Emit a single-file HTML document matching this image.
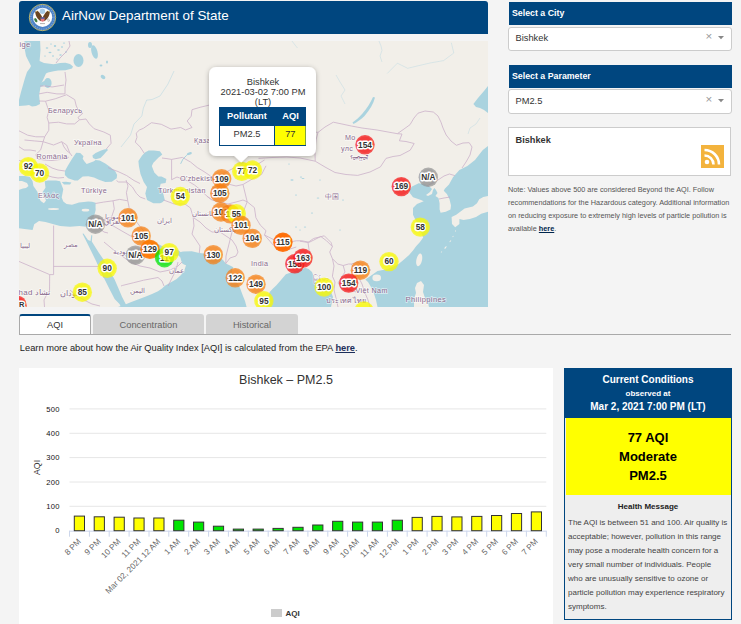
<!DOCTYPE html>
<html><head><meta charset="utf-8">
<style>
*{box-sizing:border-box}
html,body{margin:0;padding:0}
body{width:741px;height:624px;background:#f4f4f4;position:relative;overflow:hidden;font-family:"Liberation Sans",sans-serif;color:#333}
.a{position:absolute}
.hd{background:#00467f}
.sel{background:#fff;border:1px solid #ccc;border-radius:3px}
.t{position:absolute;white-space:nowrap;line-height:1}
svg text{font-family:"Liberation Sans",sans-serif}
.mk{font-size:8.3px;font-weight:bold;fill:#333;stroke:#fff;stroke-width:2.8px;stroke-linejoin:round;paint-order:stroke}
.lb{fill:#8a6a8e;stroke:#fff;stroke-opacity:.6;stroke-width:1.4px;paint-order:stroke;letter-spacing:.35px}
.pp{font-size:9.3px;fill:#333}
.ph{font-size:9.3px;font-weight:bold;fill:#fff}
.yl{font-size:7.6px;fill:#111;letter-spacing:.3px}
.xl{font-size:8.2px;fill:#666}
.ct{font-size:12.5px;fill:#333}
.yt{font-size:8.8px;fill:#333}
.lg{font-size:8px;font-weight:bold;fill:#333}
</style></head><body>

<!-- header -->
<div class="a" style="left:19px;top:1px;width:469px;height:33px;background:#00467f;border-radius:3px 3px 0 0"></div>
<svg class="a" style="left:28px;top:3px" width="29" height="29" viewBox="28 3 29 29">
  <circle cx="42.5" cy="17.5" r="13.2" fill="#4c82c6" stroke="#c8bb62" stroke-width="0.9"/>
  <circle cx="42.5" cy="17.5" r="11.6" fill="none" stroke="#7aa6dc" stroke-width="1.2" stroke-dasharray="1 1.3"/>
  <circle cx="42.6" cy="17.3" r="9.6" fill="#fdfdfd"/>
  <circle cx="42.4" cy="11.3" r="2.7" fill="#a8cbe6"/>
  <path d="M35.2,11.5 C35.3,15.5 37.5,19.5 40.9,21.3 L42.3,17.5 C41.5,15.5 39.5,12.5 37.8,11Z" fill="#6a4521"/>
  <path d="M49.8,11.5 C49.7,15.5 47.5,19.5 44.1,21.3 L42.7,17.5 C43.5,15.5 45.5,12.5 47.2,11Z" fill="#6a4521"/>
  <path d="M36.2,11.6 L37.3,10.7 M48.9,11.6 L47.8,10.7" stroke="#d8c660" stroke-width="0.9"/>
  <path d="M40.7,17.5 H44.5 V20.6 Q42.6,23 40.7,20.6Z" fill="#e3767e"/>
  <rect x="40.7" y="17.3" width="3.8" height="1.4" fill="#3a5aa5"/>
  <ellipse cx="35.8" cy="20.2" rx="1.3" ry="2.3" fill="#3d7d40" transform="rotate(-30 35.8 20.2)"/>
  <path d="M48.5,18.5 L50,21.5 M47.5,19 L48.5,22" stroke="#a0a0a0" stroke-width="0.7"/>
  <path d="M40,23.6 L45,23.6" stroke="#b0b0b0" stroke-width="1"/>
</svg>
<div class="t" style="left:62px;top:9px;font-size:13.4px;color:#fff">AirNow Department of State</div>

<!-- map -->
<svg class="a" style="left:19px;top:41px" width="469" height="266" viewBox="19 41 469 266">
<rect x="19" y="41" width="469" height="266" fill="#f2efe9"/>
<polygon points="24.5,41 40.1,41 40.5,50 39.6,61 44,63 53.6,64.3 60,63 65.5,62.7 70,64 73,66.5 72,68.5 65.5,70.2 58,70.5 53.6,71.3 48,72.5 46,73.5 43,80 41,84 40,90 39.1,95 39.6,100 40,104 36,106 32,106.5 29,105 26,105.5 19,106 19,100 21,92 23,85 25,78 27,72 30,68 31,66 29,62 26,56 24.5,48" fill="#aad3df" />
<ellipse cx="47.8" cy="83" rx="3.8" ry="5" fill="#aad3df"/>
<polygon points="39.5,84 43,81.5 46,80.5 46.5,84 42,86.5 39.5,87" fill="#aad3df" />
<ellipse cx="47" cy="48" rx="1.3" ry="0.8" fill="#aad3df"/>
<ellipse cx="50" cy="52.5" rx="1.5" ry="0.7" fill="#aad3df"/>
<ellipse cx="55" cy="46" rx="1.2" ry="0.9" fill="#aad3df"/>
<ellipse cx="58.5" cy="50" rx="1.4" ry="0.8" fill="#aad3df"/>
<ellipse cx="62" cy="47" rx="1.1" ry="0.7" fill="#aad3df"/>
<ellipse cx="53" cy="56" rx="1" ry="0.7" fill="#aad3df"/>
<ellipse cx="60.5" cy="55" rx="1.3" ry="0.7" fill="#aad3df"/>
<ellipse cx="66" cy="52" rx="1" ry="0.8" fill="#aad3df"/>
<ellipse cx="51" cy="44" rx="1" ry="0.6" fill="#aad3df"/>
<ellipse cx="64" cy="43" rx="1.2" ry="0.6" fill="#aad3df"/>
<ellipse cx="45" cy="56" rx="0.9" ry="0.6" fill="#aad3df"/>
<ellipse cx="57" cy="59" rx="1" ry="0.6" fill="#aad3df"/>
<ellipse cx="78.5" cy="60.5" rx="5" ry="6.5" fill="#aad3df"/>
<ellipse cx="94.5" cy="52" rx="3" ry="7" fill="#aad3df" transform="rotate(-15 94.5 52)"/>
<ellipse cx="90" cy="45" rx="2" ry="3" fill="#aad3df"/>
<polygon points="76.2,152.7 80.2,153.1 83.5,156.3 82.7,158.8 84.5,161.5 86.7,164 90,162.8 94,161.2 95.6,160 99.7,160.4 105.3,163.6 110.2,166.9 115.1,170.9 117.1,175 116.7,178.2 111.8,181.8 105.3,182 98.9,179.8 94,177.4 88.3,176.2 82.7,176.6 77.8,180.6 74.6,180.6 68.1,178.2 64.9,175 64.9,170.9 68.1,165.2 72.1,158.8" fill="#aad3df" />
<polygon points="92.4,155.5 95.6,153.1 100.5,150.7 104,149.6 107,149 108,150 106,152 103.7,154.7 100.5,158 95.6,159.2 93,158" fill="#aad3df" />
<polygon points="142.1,155.4 145,152.5 148.6,150.5 154,150.6 159.9,151.3 162.3,154.6 158.3,157.8 153.4,162.7 151.8,165.9 154.3,172.4 158.3,176.4 161.5,176.4 166.4,178.9 165.6,182.9 160.7,183.7 159.9,187 163.2,193.4 164.8,199.9 162,202.5 159.9,203.2 153.4,203.2 147,199.9 145.3,193.4 147,187 143.7,182.1 140.5,174 138.9,165.9 138.4,161" fill="#aad3df" />
<ellipse cx="189.3" cy="153.6" rx="2.7" ry="1.3" fill="#aad3df" transform="rotate(-20 189.3 153.6)"/>
<polygon points="19,176 25,176 30,177 32.6,181.2 33.4,186 37.4,191.7 39,197.4 40.7,201 43.9,203.2 46,200.5 44.7,197.4 42.3,192.5 45.5,187.7 44.7,181.2 48,180.4 52,180.4 56,180.5 60.1,181.2 63.3,189.3 61.7,197.4 63.3,201.6 66.6,204 72,204.8 76,203.5 79,202.5 84,202 88,201.6 92,201.8 95.7,202.7 95.5,207 95.7,209.7 94.1,216.2 91.5,220 89.3,222.7 86,226.7 79.5,225.9 69.8,226.7 60.1,225.9 53.6,224.3 45.5,221.9 39,221 34.2,224.3 32.6,230 24.5,229.1 19,228.3" fill="#aad3df" />
<polygon points="19,181 22,181 27,183 28.5,186 26,188 23,188.5 20,189.5 19,190" fill="#f2efe9" />
<polygon points="61.7,182 66,181.8 71.4,182.5 70,184.4 64,184.4" fill="#aad3df" />
<ellipse cx="85.5" cy="210.2" rx="3.8" ry="1.4" fill="#f2efe9"/>
<ellipse cx="53.5" cy="209" rx="5.5" ry="1.1" fill="#f2efe9"/>
<polygon points="82.5,233.7 83.5,233.5 88,240 90.5,241 91.3,235 92.3,235.5 91.8,241.5 98.5,252.2 103.5,259.6 109.6,270.7 114.6,279.4 118.3,288 122,296.7 125.7,304 127,307 121,307 119.5,304 114.6,299.1 109.6,289.3 104.7,279.4 99.8,269.5 96,260.9 91.1,251 86.8,242.3" fill="#aad3df" />
<polygon points="147,241.5 152,240.5 158,244 165,247.5 172,249 178,250 181,252.5 178,256 172,256.5 166,255 160,254 154,250 149,245" fill="#aad3df" />
<polygon points="176.7,253 183,251.5 191.8,251.2 199.3,253 208.8,254 215,255.5 220.1,257.8 223,260 225.8,263.5 229,265 233.4,267.2 232,270 231.5,274.8 234,278 237.1,282.3 240,288 242.8,295.6 245,301 246.6,307 118,307 121,306 124,305 131.3,302 138,299.5 146.5,296.3 152,294 158,291.2 162,288.5 165.3,285.5 171,282.3 176.7,279 181,275 184.2,271 186,265.3 184,264.5 182.3,263.5 181,260 180.5,257.8" fill="#aad3df" />
<polygon points="266,307 267,300 269.7,292 273,288.5 276.2,285.6 281,280 285.9,274.3 291,272.5 297.2,271 302,269 305.3,267.8 308.6,269 312,272 313.5,276.3 316,283 320,288 326,290 331,292 333,297 332,302 331,307" fill="#aad3df" />
<polygon points="408.9,190.5 412,186.5 418.7,183.3 424,184 429,186 432,189 430,192 426,195 428,196 432,194 433,190 434.4,188 436,190 437.5,193 435.4,196 438.5,198.1 439.6,203.3 439.6,209.6 440.6,212.7 445.8,211.7 450.5,209.6 451,205.4 449.5,199.2 446.9,194 443.75,190.8 444.8,188.75 449,184.6 453,177.3 459.4,170 467.4,166 475,160 482.8,150 488,146 488,196 483.3,197 479.2,199.2 477,203.3 472.9,206.5 464.6,208.5 456.25,214.8 451.6,217 452,224 455.2,227.3 459.4,224 459.4,219 463.5,220 469.8,219 476,216.9 481.25,213.75 488,211.7 488,307 377.5,307 376,300 374,293.7 371,287 368,282 365.3,279.6 370.5,276.1 377.5,270.9 388,269.1 398.6,263.9 404,259.5 409.1,255 413,250.5 416.1,246.3 420,242 423.2,237.5 421,232 419.7,225.6 415.6,220.2 413,214.8 413,208 417,204 423.7,201.3 421,200 413,197.2 408.9,191.8" fill="#aad3df" />
<ellipse cx="376.7" cy="277.9" rx="4.3" ry="3.3" fill="#f2efe9"/>
<ellipse cx="419.2" cy="259.9" rx="2.8" ry="6.5" fill="#f2efe9" transform="rotate(12 419.2 259.9)"/>
<polygon points="417,283 421,281 424,285 423,292 425,298 428,303 429,307 414,307 414,299 416,293 415,288" fill="#f2efe9" />
<ellipse cx="445.5" cy="247.5" rx="1.6" ry="0.6" fill="#f2efe9" transform="rotate(-50 445.5 247.5)"/>
<ellipse cx="450.3" cy="241.2" rx="1.2" ry="0.5" fill="#f2efe9" transform="rotate(-50 450.3 241.2)"/>
<ellipse cx="453" cy="236.5" rx="0.8" ry="0.4" fill="#f2efe9" transform="rotate(-50 453 236.5)"/>
<ellipse cx="441.5" cy="252" rx="0.8" ry="0.4" fill="#f2efe9" transform="rotate(-40 441.5 252)"/>
<ellipse cx="455.5" cy="231" rx="0.7" ry="0.4" fill="#f2efe9" transform="rotate(-60 455.5 231)"/>
<polygon points="473.4,104 478,98 484,91 488,86 488,113 484,110 480,108 476,107" fill="#aad3df" />
<path d="M174,71 L168,84 L160,96 L152,99.5 L148,100 L146.7,100" fill="none" stroke="#aad3df" stroke-width="0.9" stroke-opacity="0.5"/>
<ellipse cx="103" cy="77" rx="2.6" ry="1.8" fill="#aad3df" transform="rotate(35 103 77)"/>
<ellipse cx="101" cy="65.5" rx="1.4" ry="1" fill="#aad3df"/>
<ellipse cx="107" cy="62" rx="1" ry="1.5" fill="#aad3df"/>
<ellipse cx="292" cy="180" rx="1.6" ry="0.7" fill="#aad3df"/>
<ellipse cx="301" cy="177" rx="1.2" ry="0.6" fill="#aad3df"/>
<ellipse cx="303" cy="178.5" rx="1.5" ry="0.6" fill="#aad3df"/>
<ellipse cx="318" cy="198" rx="1.3" ry="0.6" fill="#aad3df"/>
<ellipse cx="296" cy="195" rx="1" ry="0.6" fill="#aad3df"/>
<ellipse cx="312" cy="213" rx="1.1" ry="0.6" fill="#aad3df"/>
<ellipse cx="305" cy="227" rx="1.2" ry="0.6" fill="#aad3df"/>
<ellipse cx="296" cy="227" rx="1" ry="0.5" fill="#aad3df"/>
<ellipse cx="300" cy="230" rx="0.8" ry="0.5" fill="#aad3df"/>
<ellipse cx="343" cy="200" rx="1" ry="0.6" fill="#aad3df"/>
<ellipse cx="320" cy="180" rx="0.8" ry="0.5" fill="#aad3df"/>
<ellipse cx="289" cy="164" rx="0.8" ry="0.5" fill="#aad3df"/>
<ellipse cx="340" cy="230" rx="0.8" ry="0.5" fill="#aad3df"/>
<polyline points="451.3,42.7 453.8,53 443.6,60.6 430,63 418,65.8 407.7,68.3 397.4,63.2 387.2,73.5" fill="none" stroke="#aad3df" stroke-width="0.8" stroke-opacity="0.45"/>
<polyline points="379,41 381,46 382,50.4 380,56 382,62" fill="none" stroke="#aad3df" stroke-width="0.8" stroke-opacity="0.45"/>
<polyline points="336,75 340,82 345,90 341,96 345,104" fill="none" stroke="#aad3df" stroke-width="0.8" stroke-opacity="0.45"/>
<polyline points="292,41 295,45 297.5,48" fill="none" stroke="#aad3df" stroke-width="0.8" stroke-opacity="0.45"/>
<polyline points="480,118 476,124 470,128 468,134" fill="none" stroke="#aad3df" stroke-width="0.8" stroke-opacity="0.45"/>
<polyline points="146.7,100 143.4,108 141.8,116 134,124 130.5,135 121,147" fill="none" stroke="#aad3df" stroke-width="0.9" stroke-opacity="0.5"/>
<path d="M375,97.5 C373.5,104 369.5,110 364.5,116 C361,119.5 357,122 353.5,124 L352.5,122.5 C356,120 359.5,117 362.5,113.5 C367,108 370.5,103 373,97Z" fill="#aad3df"/>
<path d="M186.5,155.5 L183,159 L180.8,163.5" fill="none" stroke="#aad3df" stroke-width="1" stroke-linecap="round"/>
<g opacity="0.75"><polyline points="318,132.4 325,127 333.3,122.2 342,124 351.3,126 362,128 377,130 388,132 397.4,133.7 404,129 410,124.7 414,118 418,113.2 425,111 433.3,112 438,116 441,122.2 443,128 446.2,135 451,141 456.4,145.3 463,143 469.2,142.7 472,147 470,155 466,162 462,168" fill="none" stroke="#c4a6c4" stroke-width="0.9" stroke-linejoin="round" /><polyline points="315.2,161.2 300,158 286.9,157 272,157.5 258.5,158.4" fill="none" stroke="#c4a6c4" stroke-width="0.9" stroke-linejoin="round" /><polyline points="318,132.4 316,140 315,150 315.2,161.2 325,167 335,172.5 346,174.5 357.7,175.4 370,172 380.4,166.9 386,158.4 393,156.5 400,155.5 410.2,150.2 414.2,143.5 406,141.5 399.4,140.8 402,134 397.4,133.7" fill="none" stroke="#c4a6c4" stroke-width="0.9" stroke-linejoin="round" /><polyline points="426.4,186.4 432,183 438,180 444,176 449.4,174 454.8,175.6" fill="none" stroke="#c4a6c4" stroke-width="0.9" stroke-linejoin="round" /><polyline points="439,199 444,198 450,197" fill="none" stroke="#c4a6c4" stroke-width="0.9" stroke-linejoin="round" /><polyline points="144.3,153.4 140.2,147 135.3,142.1 137,137.2 136.2,133.2 139.4,130 143.4,128.3 151.5,122.7 161.3,124.3 171,129.1 180.7,127.5 185.5,130 192,127.5 187.2,121 191.2,116.2 192,109.7 200.1,107.3 210,104.9" fill="none" stroke="#c4a6c4" stroke-width="0.9" stroke-linejoin="round" /><polyline points="300,121 307,126 315,132 318,132.4" fill="none" stroke="#c4a6c4" stroke-width="0.9" stroke-linejoin="round" /><polyline points="162,158 166,158.5 171.6,159.4 182.4,157.4 190.5,162 197.2,167.5 204,171.6 212,177 218,176 226,172 234,168 242,166 250,166 258,164 264.5,160" fill="none" stroke="#c4a6c4" stroke-width="0.9" stroke-linejoin="round" /><polyline points="171.6,159.4 171.6,179.7 177,177 187.8,181 194.5,185 201.3,190.5 206.7,196 212,200" fill="none" stroke="#c4a6c4" stroke-width="0.9" stroke-linejoin="round" /><polyline points="266,165.8 261.6,174.4 254,178 243,184.5 236,186 228,184 220,186 212,188" fill="none" stroke="#c4a6c4" stroke-width="0.9" stroke-linejoin="round" /><polyline points="243,184.5 247.2,201.8 254.4,207.6 255.9,217.7 260.2,225 266,230.7 264.5,235 276,240.8 287.6,242.3 296.3,240.8 302,240.8 309.3,242.3 320.8,236.5 326.6,240.8 332.4,246.6" fill="none" stroke="#c4a6c4" stroke-width="0.9" stroke-linejoin="round" /><polyline points="264.5,235 273.2,245 281.8,248 290,249 296.3,247" fill="none" stroke="#c4a6c4" stroke-width="0.9" stroke-linejoin="round" /><polyline points="163.5,200 174.3,204 185,204 190.5,208 193.2,217.5 194,226 192,234 196,240 200,246 199.3,253" fill="none" stroke="#c4a6c4" stroke-width="0.9" stroke-linejoin="round" /><polyline points="206.7,196 212,200 220,202 228,204 236,202 243,200 247.2,201.8" fill="none" stroke="#c4a6c4" stroke-width="0.9" stroke-linejoin="round" /><polyline points="193.2,217.5 200,222 206,228 212,232 220,232 226,236 232,240 236,246 238,252 236,256 230,258 225.8,263.5" fill="none" stroke="#c4a6c4" stroke-width="0.9" stroke-linejoin="round" /><polyline points="247.2,201.8 244,210 240,218 236,224 232,232 230,240 228,248 226,256 225.8,263.5" fill="none" stroke="#c4a6c4" stroke-width="0.9" stroke-linejoin="round" /><polyline points="108,167.5 111,169 118,171.5 126.7,175.6 134,180.5 140,183.5" fill="none" stroke="#c4a6c4" stroke-width="0.9" stroke-linejoin="round" /><polyline points="116.5,180.6 118.6,182 126.7,182 132.4,187 136.4,193.4 140,197 145.3,199" fill="none" stroke="#c4a6c4" stroke-width="0.9" stroke-linejoin="round" /><polyline points="95.4,203.5 103.5,202.1 113,200.8 119.7,199.4 127.8,200.8 126.4,192.7 128,186 126,180" fill="none" stroke="#c4a6c4" stroke-width="0.9" stroke-linejoin="round" /><polyline points="113,200.8 114.3,208.9 111.6,217 103.5,219.7 98,218" fill="none" stroke="#c4a6c4" stroke-width="0.9" stroke-linejoin="round" /><polyline points="127.8,200.8 129.1,207.5 134.5,213 135.9,221 140,226.4 146.7,234.5 150,238" fill="none" stroke="#c4a6c4" stroke-width="0.9" stroke-linejoin="round" /><polyline points="103.5,219.7 111.6,225 121,230.5 130.5,235.9 137,237 144,239" fill="none" stroke="#c4a6c4" stroke-width="0.9" stroke-linejoin="round" /><polyline points="96,224 100,229 104,232 108,233" fill="none" stroke="#c4a6c4" stroke-width="0.9" stroke-linejoin="round" /><polyline points="104,242 110,247 116,252 122,256 130,262 140,266 150,268 160,272 170,270 178,266 182,262" fill="none" stroke="#c4a6c4" stroke-width="0.9" stroke-linejoin="round" /><polyline points="121,286 122.7,285.4 133.2,282.8 143.7,280.2 158,277.5 162,281 164,286" fill="none" stroke="#c4a6c4" stroke-width="0.9" stroke-linejoin="round" /><polyline points="168,286 172,278 176,270 178,262" fill="none" stroke="#c4a6c4" stroke-width="0.9" stroke-linejoin="round" /><polyline points="53.6,225.6 53.6,266 53.6,274.6" fill="none" stroke="#c4a6c4" stroke-width="0.9" stroke-linejoin="round" /><polyline points="53.6,266.4 98,266.4" fill="none" stroke="#c4a6c4" stroke-width="0.9" stroke-linejoin="round" /><polyline points="18,261 49.7,274.6 53.6,274.6" fill="none" stroke="#c4a6c4" stroke-width="0.9" stroke-linejoin="round" /><polyline points="49.7,274.6 49.5,292 46,296 44,300 44.5,307" fill="none" stroke="#c4a6c4" stroke-width="0.9" stroke-linejoin="round" /><polyline points="98.8,266 102,272 104,278" fill="none" stroke="#c4a6c4" stroke-width="0.9" stroke-linejoin="round" /><polyline points="70,290 76,295 84,300 92,304 100,306" fill="none" stroke="#c4a6c4" stroke-width="0.9" stroke-linejoin="round" /><polyline points="69,41 70,46 66,52 60,58 56,63" fill="none" stroke="#c4a6c4" stroke-width="0.9" stroke-linejoin="round" /><polyline points="65,72 66,80 65,88 65,93.9" fill="none" stroke="#c4a6c4" stroke-width="0.9" stroke-linejoin="round" /><polyline points="39,93.9 47.1,92.3 56.9,93.9 65,93.9" fill="none" stroke="#c4a6c4" stroke-width="0.9" stroke-linejoin="round" /><polyline points="40,86 46,86 52,87 58,86 64,85" fill="none" stroke="#c4a6c4" stroke-width="0.9" stroke-linejoin="round" /><polyline points="45.5,101.2 55.2,98.8 60,97.1 66.6,94.7 74.7,99.6 76.3,106 79.5,112.5 82.8,113.3 78,117.4 79.5,119.8" fill="none" stroke="#c4a6c4" stroke-width="0.9" stroke-linejoin="round" /><polyline points="48.8,123 58.5,122.2 66.6,123.9 74.7,123.9 79.5,119.8 86,119 89.3,123.9 94.1,128.7 103.8,132 110.3,135.2 111.1,143.3 106.3,149" fill="none" stroke="#c4a6c4" stroke-width="0.9" stroke-linejoin="round" /><polyline points="39,101 45.5,101.2 48.8,110.9 47.1,117.4 48.8,123 48.8,130.3 44.7,136.8 43.1,141.7" fill="none" stroke="#c4a6c4" stroke-width="0.9" stroke-linejoin="round" /><polyline points="18,130.3 27.7,135.2 35.8,136.8 44.7,136.8" fill="none" stroke="#c4a6c4" stroke-width="0.9" stroke-linejoin="round" /><polyline points="24.5,140 34.2,140.9 43.1,141.7" fill="none" stroke="#c4a6c4" stroke-width="0.9" stroke-linejoin="round" /><polyline points="43.1,141.7 53.6,145 61.7,141.7 66.6,145 69.8,153 72,156" fill="none" stroke="#c4a6c4" stroke-width="0.9" stroke-linejoin="round" /><polyline points="43.1,141.7 40.7,149.8 35.8,154.6 38,159 44,160 52,160.5 60,159.5 66,158 68.7,157.3" fill="none" stroke="#c4a6c4" stroke-width="0.9" stroke-linejoin="round" /><polyline points="61.7,141.7 64,147 67,151 69.8,153" fill="none" stroke="#c4a6c4" stroke-width="0.9" stroke-linejoin="round" /><polyline points="18,146 24,150 30,150 36,151" fill="none" stroke="#c4a6c4" stroke-width="0.9" stroke-linejoin="round" /><polyline points="18,160 24,162 30,165" fill="none" stroke="#c4a6c4" stroke-width="0.9" stroke-linejoin="round" /><polyline points="45,164 52,168 58,170 64.9,171" fill="none" stroke="#c4a6c4" stroke-width="0.9" stroke-linejoin="round" /><polyline points="40,176 46,175 52,177 58,178 64,177.5" fill="none" stroke="#c4a6c4" stroke-width="0.9" stroke-linejoin="round" /><polyline points="300,241.2 308,242.5 313.5,238.5 324.3,235.8 328.3,239.8 331,242.5 332.4,246.6 329.7,252 332.4,258.7 337.8,264 343.2,265.5 348.6,264 351.3,264 354,268 359.4,279 362,284 364.8,292.5 368,300 370,307" fill="none" stroke="#c4a6c4" stroke-width="0.9" stroke-linejoin="round" /><polyline points="308,242.5 309.4,252 311,260 308,264" fill="none" stroke="#c4a6c4" stroke-width="0.9" stroke-linejoin="round" /><polyline points="332.4,258.7 334,266 332.4,276.3 335,282 334,290 336,298 338,307" fill="none" stroke="#c4a6c4" stroke-width="0.9" stroke-linejoin="round" /><polyline points="343.2,265.5 345,272 341,278 338,283 342,288 350,290 356,292" fill="none" stroke="#c4a6c4" stroke-width="0.9" stroke-linejoin="round" /><polyline points="351.3,264 358,262 362,266 366,269 371,270" fill="none" stroke="#c4a6c4" stroke-width="0.9" stroke-linejoin="round" /></g>
<text x="48" y="112.5" class="lb" font-size="7.2">Беларусь</text>
<text x="74" y="145" class="lb" font-size="7.2">Україна</text>
<text x="36.5" y="158.5" class="lb" font-size="7.2">România</text>
<text x="38" y="198" class="lb" font-size="7.2">Ελλάς</text>
<text x="81" y="192.8" class="lb" font-size="7.2">Türkiye</text>
<text x="194" y="143.3" class="lb" font-size="7.2">Қазақстан</text>
<text x="180" y="180.5" class="lb" font-size="7.2">O'zbekiston</text>
<text x="158" y="192.5" class="lb" font-size="7.2">Türkmenistan</text>
<text x="157" y="223" class="lb" font-size="7.2">ایران</text>
<text x="104.5" y="218.6" class="lb" font-size="7.2">سوريا</text>
<text x="104" y="224.3" class="lb" font-size="7.2">العراق</text>
<text x="64" y="247" class="lb" font-size="7.2">مصر</text>
<text x="20" y="248" class="lb" font-size="7.2">ليبيا</text>
<text x="60" y="296" class="lb" font-size="7.9">السودان</text>
<text x="18.5" y="295" class="lb" font-size="7.9">had تشاد</text>
<text x="113" y="254" class="lb" font-size="7.2">السعودية</text>
<text x="130" y="293" class="lb" font-size="7.2">اليمن</text>
<text x="169" y="272.5" class="lb" font-size="7.2">عمان</text>
<text x="214" y="231.5" class="lb" font-size="7.2">پاکستان</text>
<text x="192" y="216" class="lb" font-size="7.2">افغانستان</text>
<text x="251" y="266" class="lb" font-size="7.2">India</text>
<text x="325" y="199" class="lb" font-size="7.2">中国</text>
<text x="345" y="139.8" class="lb" font-size="7.2">Mo</text>
<text x="341" y="150.5" class="lb" font-size="7.2">улс</text>
<text x="350" y="160" class="lb" font-size="6">ᠮᠣᠩᠭᠣᠯ</text>
<text x="355.5" y="292.5" class="lb" font-size="7.2">Việt Nam</text>
<text x="325.5" y="303" class="lb" font-size="7.2">ประเทศไทย</text>
<text x="405.6" y="302" class="lb" font-size="7.6">Philippines</text>
<text x="19.5" y="46.5" class="lb" font-size="7.6">ige</text>
<text x="313" y="281" class="lb" font-size="6.5">မြန်မာ</text>
<circle cx="365" cy="144.8" r="9.7" fill="#f51010" fill-opacity="0.7"/><circle cx="365" cy="144.8" r="8.3" fill="#f51010" fill-opacity="0.3"/><text x="365" y="147.60000000000002" text-anchor="middle" class="mk">154</text>
<circle cx="401.3" cy="186.6" r="9.7" fill="#f51010" fill-opacity="0.7"/><circle cx="401.3" cy="186.6" r="8.3" fill="#f51010" fill-opacity="0.3"/><text x="401.3" y="189.4" text-anchor="middle" class="mk">169</text>
<circle cx="428.3" cy="177.3" r="9.7" fill="#939393" fill-opacity="0.7"/><circle cx="428.3" cy="177.3" r="8.3" fill="#939393" fill-opacity="0.3"/><text x="428.3" y="180.10000000000002" text-anchor="middle" class="mk">N/A</text>
<circle cx="420.3" cy="227.1" r="9.7" fill="#fafa00" fill-opacity="0.7"/><circle cx="420.3" cy="227.1" r="8.3" fill="#fafa00" fill-opacity="0.3"/><text x="420.3" y="229.9" text-anchor="middle" class="mk">58</text>
<circle cx="28.3" cy="166.6" r="9.7" fill="#fafa00" fill-opacity="0.7"/><circle cx="28.3" cy="166.6" r="8.3" fill="#fafa00" fill-opacity="0.3"/><text x="28.3" y="169.4" text-anchor="middle" class="mk">92</text>
<circle cx="39.6" cy="173" r="9.7" fill="#fafa00" fill-opacity="0.7"/><circle cx="39.6" cy="173" r="8.3" fill="#fafa00" fill-opacity="0.3"/><text x="39.6" y="175.8" text-anchor="middle" class="mk">70</text>
<circle cx="95.4" cy="224.2" r="9.7" fill="#939393" fill-opacity="0.7"/><circle cx="95.4" cy="224.2" r="8.3" fill="#939393" fill-opacity="0.3"/><text x="95.4" y="227.0" text-anchor="middle" class="mk">N/A</text>
<circle cx="128" cy="217.8" r="9.7" fill="#f67e10" fill-opacity="0.7"/><circle cx="128" cy="217.8" r="8.3" fill="#f67e10" fill-opacity="0.3"/><text x="128" y="220.60000000000002" text-anchor="middle" class="mk">101</text>
<circle cx="141.2" cy="235.9" r="9.7" fill="#f67e10" fill-opacity="0.7"/><circle cx="141.2" cy="235.9" r="8.3" fill="#f67e10" fill-opacity="0.3"/><text x="141.2" y="238.70000000000002" text-anchor="middle" class="mk">105</text>
<circle cx="135.4" cy="255.2" r="9.7" fill="#939393" fill-opacity="0.7"/><circle cx="135.4" cy="255.2" r="8.3" fill="#939393" fill-opacity="0.3"/><text x="135.4" y="258.0" text-anchor="middle" class="mk">N/A</text>
<circle cx="150" cy="249.4" r="9.7" fill="#ff7800" fill-opacity="0.88"/><circle cx="150" cy="249.4" r="8.3" fill="#ff7800" fill-opacity="0.5"/><text x="150" y="252.20000000000002" text-anchor="middle" class="mk">129</text>
<circle cx="164.5" cy="257.7" r="9.7" fill="#00e400" fill-opacity="0.7"/><circle cx="164.5" cy="257.7" r="8.3" fill="#00e400" fill-opacity="0.3"/><text x="164.5" y="260.5" text-anchor="middle" class="mk">11</text>
<circle cx="169.2" cy="252.6" r="9.7" fill="#fafa00" fill-opacity="0.7"/><circle cx="169.2" cy="252.6" r="8.3" fill="#fafa00" fill-opacity="0.3"/><text x="169.2" y="255.4" text-anchor="middle" class="mk">97</text>
<circle cx="107.2" cy="268.3" r="9.7" fill="#fafa00" fill-opacity="0.7"/><circle cx="107.2" cy="268.3" r="8.3" fill="#fafa00" fill-opacity="0.3"/><text x="107.2" y="271.1" text-anchor="middle" class="mk">90</text>
<circle cx="82.3" cy="292.2" r="9.7" fill="#fafa00" fill-opacity="0.7"/><circle cx="82.3" cy="292.2" r="8.3" fill="#fafa00" fill-opacity="0.3"/><text x="82.3" y="295.0" text-anchor="middle" class="mk">85</text>
<circle cx="180.3" cy="196.5" r="9.7" fill="#fafa00" fill-opacity="0.7"/><circle cx="180.3" cy="196.5" r="8.3" fill="#fafa00" fill-opacity="0.3"/><text x="180.3" y="199.3" text-anchor="middle" class="mk">54</text>
<circle cx="221.7" cy="178.7" r="9.7" fill="#f67e10" fill-opacity="0.7"/><circle cx="221.7" cy="178.7" r="8.3" fill="#f67e10" fill-opacity="0.3"/><text x="221.7" y="181.5" text-anchor="middle" class="mk">109</text>
<circle cx="219.8" cy="193.2" r="9.7" fill="#f67e10" fill-opacity="0.7"/><circle cx="219.8" cy="193.2" r="8.3" fill="#f67e10" fill-opacity="0.3"/><text x="219.8" y="196.0" text-anchor="middle" class="mk">105</text>
<circle cx="221" cy="212" r="9.7" fill="#f67e10" fill-opacity="0.7"/><circle cx="221" cy="212" r="8.3" fill="#f67e10" fill-opacity="0.3"/><text x="221" y="214.8" text-anchor="middle" class="mk">101</text>
<circle cx="230.3" cy="213.9" r="9.7" fill="#f67e10" fill-opacity="0.7"/><circle cx="230.3" cy="213.9" r="8.3" fill="#f67e10" fill-opacity="0.3"/><text x="230.3" y="216.70000000000002" text-anchor="middle" class="mk">10</text>
<circle cx="236.3" cy="213.8" r="9.7" fill="#fafa00" fill-opacity="0.7"/><circle cx="236.3" cy="213.8" r="8.3" fill="#fafa00" fill-opacity="0.3"/><text x="236.3" y="216.60000000000002" text-anchor="middle" class="mk">55</text>
<circle cx="241" cy="225.3" r="9.7" fill="#f67e10" fill-opacity="0.7"/><circle cx="241" cy="225.3" r="8.3" fill="#f67e10" fill-opacity="0.3"/><text x="241" y="228.10000000000002" text-anchor="middle" class="mk">101</text>
<circle cx="252.2" cy="238.4" r="9.7" fill="#f67e10" fill-opacity="0.7"/><circle cx="252.2" cy="238.4" r="8.3" fill="#f67e10" fill-opacity="0.3"/><text x="252.2" y="241.20000000000002" text-anchor="middle" class="mk">104</text>
<circle cx="213.3" cy="254.7" r="9.7" fill="#f67e10" fill-opacity="0.7"/><circle cx="213.3" cy="254.7" r="8.3" fill="#f67e10" fill-opacity="0.3"/><text x="213.3" y="257.5" text-anchor="middle" class="mk">130</text>
<circle cx="235.2" cy="277.8" r="9.7" fill="#f67e10" fill-opacity="0.7"/><circle cx="235.2" cy="277.8" r="8.3" fill="#f67e10" fill-opacity="0.3"/><text x="235.2" y="280.6" text-anchor="middle" class="mk">122</text>
<circle cx="256" cy="284.2" r="9.7" fill="#f67e10" fill-opacity="0.7"/><circle cx="256" cy="284.2" r="8.3" fill="#f67e10" fill-opacity="0.3"/><text x="256" y="287.0" text-anchor="middle" class="mk">149</text>
<circle cx="263.9" cy="300.8" r="9.7" fill="#fafa00" fill-opacity="0.7"/><circle cx="263.9" cy="300.8" r="8.3" fill="#fafa00" fill-opacity="0.3"/><text x="263.9" y="303.6" text-anchor="middle" class="mk">95</text>
<circle cx="241.8" cy="171.4" r="9.7" fill="#fafa00" fill-opacity="0.7"/><circle cx="241.8" cy="171.4" r="8.3" fill="#fafa00" fill-opacity="0.3"/><text x="241.8" y="174.20000000000002" text-anchor="middle" class="mk">77</text>
<circle cx="252.5" cy="170" r="9.7" fill="#fafa00" fill-opacity="0.7"/><circle cx="252.5" cy="170" r="8.3" fill="#fafa00" fill-opacity="0.3"/><text x="252.5" y="172.8" text-anchor="middle" class="mk">72</text>
<circle cx="282.9" cy="242.3" r="9.7" fill="#ff6a00" fill-opacity="0.92"/><circle cx="282.9" cy="242.3" r="8.3" fill="#ff6a00" fill-opacity="0.5"/><text x="282.9" y="245.10000000000002" text-anchor="middle" class="mk">115</text>
<circle cx="294.8" cy="263.8" r="9.7" fill="#f51010" fill-opacity="0.7"/><circle cx="294.8" cy="263.8" r="8.3" fill="#f51010" fill-opacity="0.3"/><text x="294.8" y="266.6" text-anchor="middle" class="mk">158</text>
<circle cx="303" cy="258.1" r="9.7" fill="#f51010" fill-opacity="0.7"/><circle cx="303" cy="258.1" r="8.3" fill="#f51010" fill-opacity="0.3"/><text x="303" y="260.90000000000003" text-anchor="middle" class="mk">163</text>
<circle cx="324.1" cy="287.1" r="9.7" fill="#fafa00" fill-opacity="0.7"/><circle cx="324.1" cy="287.1" r="8.3" fill="#fafa00" fill-opacity="0.3"/><text x="324.1" y="289.90000000000003" text-anchor="middle" class="mk">100</text>
<circle cx="360.4" cy="270.2" r="9.7" fill="#f67e10" fill-opacity="0.7"/><circle cx="360.4" cy="270.2" r="8.3" fill="#f67e10" fill-opacity="0.3"/><text x="360.4" y="273.0" text-anchor="middle" class="mk">119</text>
<circle cx="348.7" cy="283.1" r="9.7" fill="#f51010" fill-opacity="0.7"/><circle cx="348.7" cy="283.1" r="8.3" fill="#f51010" fill-opacity="0.3"/><text x="348.7" y="285.90000000000003" text-anchor="middle" class="mk">154</text>
<circle cx="389" cy="261.6" r="9.7" fill="#fafa00" fill-opacity="0.7"/><circle cx="389" cy="261.6" r="8.3" fill="#fafa00" fill-opacity="0.3"/><text x="389" y="264.40000000000003" text-anchor="middle" class="mk">60</text>
<circle cx="364" cy="311" r="9.7" fill="#fafa00" fill-opacity="0.7"/><circle cx="364" cy="311" r="8.3" fill="#fafa00" fill-opacity="0.3"/>
<circle cx="17" cy="305.2" r="9.7" fill="#f51010" fill-opacity="0.7"/><circle cx="17" cy="305.2" r="8.3" fill="#f51010" fill-opacity="0.3"/>
<text x="19" y="306.8" class="mk" style="font-size:7.5px">R</text>
<g>
<defs><filter id="sh" x="-20%" y="-20%" width="140%" height="140%"><feDropShadow dx="0" dy="1" stdDeviation="2.4" flood-color="#000" flood-opacity="0.3"/></filter></defs>
<g filter="url(#sh)"><rect x="209" y="67" width="107" height="89" rx="7" fill="#fff"/>
<path d="M233.5,155 L241.2,162.5 L249,155Z" fill="#fff"/></g>
<text x="263" y="84.8" text-anchor="middle" class="pp">Bishkek</text>
<text x="263" y="94.8" text-anchor="middle" class="pp">2021-03-02 7:00 PM</text>
<text x="263" y="104.8" text-anchor="middle" class="pp">(LT)</text>
<rect x="219.5" y="107.5" width="86" height="38" fill="#fff" stroke="#00467f" stroke-width="1"/>
<rect x="219" y="107" width="87" height="19" fill="#00467f"/>
<rect x="275" y="126" width="30.5" height="19" fill="#ffff00"/>
<line x1="274.5" y1="126" x2="274.5" y2="145" stroke="#00467f" stroke-width="1"/>
<text x="247" y="119" text-anchor="middle" class="ph">Pollutant</text>
<text x="290.5" y="119" text-anchor="middle" class="ph">AQI</text>
<text x="247" y="137.3" text-anchor="middle" class="pp" fill="#333">PM2.5</text>
<text x="290.3" y="137.3" text-anchor="middle" class="pp" fill="#333">77</text>
</g>
</svg>

<!-- right column -->
<div class="a hd" style="left:509px;top:2px;width:222.5px;height:23px"></div>
<div class="t" style="left:512px;top:8.7px;font-size:8.8px;color:#fff;font-weight:bold">Select a City</div>
<div class="a sel" style="left:508px;top:26.5px;width:223.5px;height:24px"></div>
<div class="t" style="left:515.5px;top:34px;font-size:9.3px;color:#333">Bishkek</div>
<div class="t" style="left:705.5px;top:31px;font-size:11.5px;color:#999">×</div>
<svg class="a" style="left:718px;top:36px" width="7" height="4"><path d="M0 0H6L3 3.2Z" fill="#888"/></svg>

<div class="a hd" style="left:509px;top:65px;width:222.5px;height:23px"></div>
<div class="t" style="left:512px;top:72.2px;font-size:8.8px;color:#fff;font-weight:bold">Select a Parameter</div>
<div class="a sel" style="left:508px;top:88.5px;width:223.5px;height:25px"></div>
<div class="t" style="left:515.5px;top:97px;font-size:9.3px;color:#333">PM2.5</div>
<div class="t" style="left:705.5px;top:94.2px;font-size:11.5px;color:#999">×</div>
<svg class="a" style="left:718px;top:98.8px" width="7" height="4"><path d="M0 0H6L3 3.2Z" fill="#888"/></svg>

<div class="a" style="left:508px;top:127px;width:223px;height:49px;background:#fff;border:1px solid #ccc"></div>
<div class="t" style="left:515.5px;top:135.5px;font-size:9.2px;color:#333;font-weight:bold">Bishkek</div>
<svg class="a" style="left:701px;top:145px" width="23" height="23" viewBox="0 0 23 23">
  <rect width="23" height="23" fill="#f3b33d"/>
  <circle cx="6" cy="17" r="2.3" fill="#fff"/>
  <path d="M3.5 10.5 A9 9 0 0 1 12.5 19.5" stroke="#fff" stroke-width="2.6" fill="none"/>
  <path d="M3.5 5 A14.5 14.5 0 0 1 18 19.5" stroke="#fff" stroke-width="2.6" fill="none"/>
</svg>

<div class="a" style="left:508px;top:183px;width:232px;font-size:7.3px;line-height:13.1px;color:#555;white-space:nowrap">Note: Values above 500 are considered Beyond the AQI. Follow<br>recommendations for the Hazardous category. Additional information<br>on reducing exposure to extremely high levels of particle pollution is<br>available <b style="color:#00264d;text-decoration:underline">here</b>.</div>

<!-- tabs -->
<div class="a" style="left:19px;top:314px;width:72px;height:21px;background:#fff;border:1px solid #a9a9a9;border-top:2px solid #00467f;border-bottom:none;border-radius:3px 3px 0 0"></div>
<div class="a" style="left:19px;top:334px;width:712px;height:1px;background:#a9a9a9"></div>
<div class="t" style="left:19px;width:72px;text-align:center;top:321px;font-size:9.3px;color:#333">AQI</div>
<div class="a" style="left:93px;top:314px;width:111px;height:20px;background:#d3d3d3;border-radius:3px 3px 0 0"></div>
<div class="t" style="left:93px;width:111px;text-align:center;top:321px;font-size:9.3px;color:#666">Concentration</div>
<div class="a" style="left:206px;top:314px;width:92px;height:20px;background:#d3d3d3;border-radius:3px 3px 0 0"></div>
<div class="t" style="left:206px;width:92px;text-align:center;top:321px;font-size:9.3px;color:#666">Historical</div>

<div class="t" style="left:19.8px;top:344px;font-size:9.3px;color:#222">Learn more about how the Air Quality Index [AQI] is calculated from the EPA <b style="text-decoration:underline;color:#1c2e5a">here</b>.</div>

<!-- chart -->
<div class="a" style="left:19px;top:368px;width:534px;height:256px;background:#fff"></div>
<svg class="a" style="left:0;top:0" width="741" height="624"><text x="59.8" y="533.3" text-anchor="end" class="yl">0</text><line x1="69.5" y1="506.3" x2="546.3" y2="506.3" stroke="#e6e6e6" stroke-width="1"/><text x="59.8" y="508.9" text-anchor="end" class="yl">100</text><line x1="69.5" y1="482.0" x2="546.3" y2="482.0" stroke="#e6e6e6" stroke-width="1"/><text x="59.8" y="484.6" text-anchor="end" class="yl">200</text><line x1="69.5" y1="457.6" x2="546.3" y2="457.6" stroke="#e6e6e6" stroke-width="1"/><text x="59.8" y="460.2" text-anchor="end" class="yl">300</text><line x1="69.5" y1="433.3" x2="546.3" y2="433.3" stroke="#e6e6e6" stroke-width="1"/><text x="59.8" y="435.9" text-anchor="end" class="yl">400</text><line x1="69.5" y1="408.9" x2="546.3" y2="408.9" stroke="#e6e6e6" stroke-width="1"/><text x="59.8" y="411.5" text-anchor="end" class="yl">500</text><line x1="69.5" y1="531.2" x2="546.3" y2="531.2" stroke="#ccd6eb" stroke-width="1"/><line x1="69.5" y1="530.7" x2="69.5" y2="536.7" stroke="#ccd6eb" stroke-width="1"/><line x1="89.4" y1="530.7" x2="89.4" y2="536.7" stroke="#ccd6eb" stroke-width="1"/><line x1="109.2" y1="530.7" x2="109.2" y2="536.7" stroke="#ccd6eb" stroke-width="1"/><line x1="129.1" y1="530.7" x2="129.1" y2="536.7" stroke="#ccd6eb" stroke-width="1"/><line x1="149.0" y1="530.7" x2="149.0" y2="536.7" stroke="#ccd6eb" stroke-width="1"/><line x1="168.8" y1="530.7" x2="168.8" y2="536.7" stroke="#ccd6eb" stroke-width="1"/><line x1="188.7" y1="530.7" x2="188.7" y2="536.7" stroke="#ccd6eb" stroke-width="1"/><line x1="208.6" y1="530.7" x2="208.6" y2="536.7" stroke="#ccd6eb" stroke-width="1"/><line x1="228.4" y1="530.7" x2="228.4" y2="536.7" stroke="#ccd6eb" stroke-width="1"/><line x1="248.3" y1="530.7" x2="248.3" y2="536.7" stroke="#ccd6eb" stroke-width="1"/><line x1="268.2" y1="530.7" x2="268.2" y2="536.7" stroke="#ccd6eb" stroke-width="1"/><line x1="288.0" y1="530.7" x2="288.0" y2="536.7" stroke="#ccd6eb" stroke-width="1"/><line x1="307.9" y1="530.7" x2="307.9" y2="536.7" stroke="#ccd6eb" stroke-width="1"/><line x1="327.8" y1="530.7" x2="327.8" y2="536.7" stroke="#ccd6eb" stroke-width="1"/><line x1="347.6" y1="530.7" x2="347.6" y2="536.7" stroke="#ccd6eb" stroke-width="1"/><line x1="367.5" y1="530.7" x2="367.5" y2="536.7" stroke="#ccd6eb" stroke-width="1"/><line x1="387.4" y1="530.7" x2="387.4" y2="536.7" stroke="#ccd6eb" stroke-width="1"/><line x1="407.2" y1="530.7" x2="407.2" y2="536.7" stroke="#ccd6eb" stroke-width="1"/><line x1="427.1" y1="530.7" x2="427.1" y2="536.7" stroke="#ccd6eb" stroke-width="1"/><line x1="447.0" y1="530.7" x2="447.0" y2="536.7" stroke="#ccd6eb" stroke-width="1"/><line x1="466.8" y1="530.7" x2="466.8" y2="536.7" stroke="#ccd6eb" stroke-width="1"/><line x1="486.7" y1="530.7" x2="486.7" y2="536.7" stroke="#ccd6eb" stroke-width="1"/><line x1="506.6" y1="530.7" x2="506.6" y2="536.7" stroke="#ccd6eb" stroke-width="1"/><line x1="526.4" y1="530.7" x2="526.4" y2="536.7" stroke="#ccd6eb" stroke-width="1"/><line x1="546.3" y1="530.7" x2="546.3" y2="536.7" stroke="#ccd6eb" stroke-width="1"/><rect x="74.3" y="516.1" width="10.2" height="14.6" fill="#ffff00" stroke="#333" stroke-width="1"/><text transform="translate(81.4,542.0) rotate(-45)" text-anchor="end" class="xl">8 PM</text><rect x="94.2" y="516.8" width="10.2" height="13.9" fill="#ffff00" stroke="#333" stroke-width="1"/><text transform="translate(101.3,542.0) rotate(-45)" text-anchor="end" class="xl">9 PM</text><rect x="114.1" y="517.2" width="10.2" height="13.5" fill="#ffff00" stroke="#333" stroke-width="1"/><text transform="translate(121.2,542.0) rotate(-45)" text-anchor="end" class="xl">10 PM</text><rect x="133.9" y="518.0" width="10.2" height="12.7" fill="#ffff00" stroke="#333" stroke-width="1"/><text transform="translate(141.0,542.0) rotate(-45)" text-anchor="end" class="xl">11 PM</text><rect x="153.8" y="518.0" width="10.2" height="12.7" fill="#ffff00" stroke="#333" stroke-width="1"/><text transform="translate(160.9,542.0) rotate(-45)" text-anchor="end" class="xl">Mar 02, 2021 12 AM</text><rect x="173.7" y="520.2" width="10.2" height="10.5" fill="#00e400" stroke="#333" stroke-width="1"/><text transform="translate(180.8,542.0) rotate(-45)" text-anchor="end" class="xl">1 AM</text><rect x="193.5" y="522.1" width="10.2" height="8.6" fill="#00e400" stroke="#333" stroke-width="1"/><text transform="translate(200.6,542.0) rotate(-45)" text-anchor="end" class="xl">2 AM</text><rect x="213.4" y="526.2" width="10.2" height="4.5" fill="#00e400" stroke="#333" stroke-width="1"/><text transform="translate(220.5,542.0) rotate(-45)" text-anchor="end" class="xl">3 AM</text><rect x="233.3" y="529.1" width="10.2" height="1.6" fill="#00e400" stroke="#333" stroke-width="1"/><text transform="translate(240.4,542.0) rotate(-45)" text-anchor="end" class="xl">4 AM</text><rect x="253.1" y="529.1" width="10.2" height="1.6" fill="#00e400" stroke="#333" stroke-width="1"/><text transform="translate(260.2,542.0) rotate(-45)" text-anchor="end" class="xl">5 AM</text><rect x="273.0" y="528.4" width="10.2" height="2.3" fill="#00e400" stroke="#333" stroke-width="1"/><text transform="translate(280.1,542.0) rotate(-45)" text-anchor="end" class="xl">6 AM</text><rect x="292.9" y="527.3" width="10.2" height="3.4" fill="#00e400" stroke="#333" stroke-width="1"/><text transform="translate(300.0,542.0) rotate(-45)" text-anchor="end" class="xl">7 AM</text><rect x="312.7" y="525.0" width="10.2" height="5.7" fill="#00e400" stroke="#333" stroke-width="1"/><text transform="translate(319.8,542.0) rotate(-45)" text-anchor="end" class="xl">8 AM</text><rect x="332.6" y="521.3" width="10.2" height="9.4" fill="#00e400" stroke="#333" stroke-width="1"/><text transform="translate(339.7,542.0) rotate(-45)" text-anchor="end" class="xl">9 AM</text><rect x="352.5" y="522.1" width="10.2" height="8.6" fill="#00e400" stroke="#333" stroke-width="1"/><text transform="translate(359.6,542.0) rotate(-45)" text-anchor="end" class="xl">10 AM</text><rect x="372.3" y="522.1" width="10.2" height="8.6" fill="#00e400" stroke="#333" stroke-width="1"/><text transform="translate(379.4,542.0) rotate(-45)" text-anchor="end" class="xl">11 AM</text><rect x="392.2" y="520.2" width="10.2" height="10.5" fill="#00e400" stroke="#333" stroke-width="1"/><text transform="translate(399.3,542.0) rotate(-45)" text-anchor="end" class="xl">12 PM</text><rect x="412.1" y="517.4" width="10.2" height="13.3" fill="#ffff00" stroke="#333" stroke-width="1"/><text transform="translate(419.2,542.0) rotate(-45)" text-anchor="end" class="xl">1 PM</text><rect x="431.9" y="516.4" width="10.2" height="14.3" fill="#ffff00" stroke="#333" stroke-width="1"/><text transform="translate(439.0,542.0) rotate(-45)" text-anchor="end" class="xl">2 PM</text><rect x="451.8" y="516.9" width="10.2" height="13.8" fill="#ffff00" stroke="#333" stroke-width="1"/><text transform="translate(458.9,542.0) rotate(-45)" text-anchor="end" class="xl">3 PM</text><rect x="471.7" y="516.4" width="10.2" height="14.3" fill="#ffff00" stroke="#333" stroke-width="1"/><text transform="translate(478.8,542.0) rotate(-45)" text-anchor="end" class="xl">4 PM</text><rect x="491.5" y="515.5" width="10.2" height="15.2" fill="#ffff00" stroke="#333" stroke-width="1"/><text transform="translate(498.6,542.0) rotate(-45)" text-anchor="end" class="xl">5 PM</text><rect x="511.4" y="513.5" width="10.2" height="17.2" fill="#ffff00" stroke="#333" stroke-width="1"/><text transform="translate(518.5,542.0) rotate(-45)" text-anchor="end" class="xl">6 PM</text><rect x="531.3" y="511.9" width="10.2" height="18.8" fill="#ffff00" stroke="#333" stroke-width="1"/><text transform="translate(538.4,542.0) rotate(-45)" text-anchor="end" class="xl">7 PM</text><text x="286" y="384" text-anchor="middle" class="ct">Bishkek – PM2.5</text><text transform="translate(39.5,467.5) rotate(-90)" text-anchor="middle" class="yt">AQI</text><rect x="271" y="609" width="11" height="8" fill="#ccc"/><text x="285.5" y="616" class="lg">AQI</text></svg>

<!-- current conditions -->
<div class="a" style="left:564px;top:368px;width:168px;height:252px;background:#eee;border:1.5px solid #00467f"></div>
<div class="a" style="left:564px;top:368px;width:168px;height:50px;background:#00467f"></div>
<div class="a" style="left:565.5px;top:418px;width:165px;height:77px;background:#ffff00"></div>
<div class="t" style="left:564px;width:168px;text-align:center;top:374.7px;font-size:10px;font-weight:bold;color:#fff">Current Conditions</div>
<div class="t" style="left:564px;width:168px;text-align:center;top:389.5px;font-size:8px;font-weight:bold;color:#fff">observed at</div>
<div class="t" style="left:564px;width:168px;text-align:center;top:402px;font-size:10px;font-weight:bold;color:#fff">Mar 2, 2021 7:00 PM (LT)</div>
<div class="t" style="left:564px;width:168px;text-align:center;top:428px;font-size:13px;font-weight:bold;color:#000;line-height:19px">77 AQI<br>Moderate<br>PM2.5</div>
<div class="t" style="left:564px;width:168px;text-align:center;top:502.8px;font-size:8px;font-weight:bold;color:#222">Health Message</div>
<div class="a" style="left:568px;top:515.8px;width:170px;font-size:8px;line-height:14px;color:#444;white-space:nowrap">The AQI is between 51 and 100. Air quality is<br>acceptable; however, pollution in this range<br>may pose a moderate health concern for a<br>very small number of individuals. People<br>who are unusually sensitive to ozone or<br>particle pollution may experience respiratory<br>symptoms.</div>

</body></html>
